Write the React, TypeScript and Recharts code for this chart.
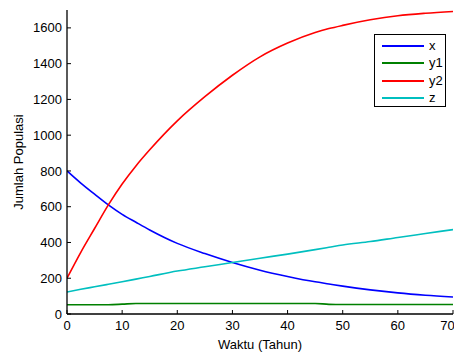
import { LineChart, Line, XAxis, YAxis, Legend } from "recharts";

const years = [0, 2.5, 5, 7.5, 10, 12.5, 15, 20, 25, 30, 35, 40, 45, 47.5, 50, 55, 60, 65, 70];
const xVals = [800, 732, 670, 610, 557, 513, 470, 395, 338, 288, 245, 210, 180, 168, 156, 135, 118, 105, 95];
const y1Vals = [52, 52, 52, 52, 55, 59, 59, 59, 59, 59, 59, 59, 59, 54, 53, 53, 53, 53, 53];
const y2Vals = [200, 345, 478, 610, 727, 828, 918, 1080, 1215, 1335, 1438, 1515, 1574, 1596, 1614, 1645, 1668, 1682, 1692];
const zVals = [123, 138, 152, 166, 180, 195, 210, 240, 264, 288, 312, 335, 360, 373, 386, 405, 428, 450, 472];

const xTicks = [0, 10, 20, 30, 40, 50, 60, 70];
const yTicks = [0, 200, 400, 600, 800, 1000, 1200, 1400, 1600];

const series = [
  { key: "x", color: "#0000ff" },
  { key: "y1", color: "#008000" },
  { key: "y2", color: "#ff0000" },
  { key: "z", color: "#00bfbf" },
];

const data = years.map((t, i) => ({
  t,
  x: xVals[i],
  y1: y1Vals[i],
  y2: y2Vals[i],
  z: zVals[i],
}));

const FONT = "'Liberation Sans', Arial, sans-serif";
const tickStyle = { fill: "#000", fontSize: 13, fontFamily: FONT };
const axisLine = { stroke: "#000", strokeWidth: 1.3 };

const LegendBox = () => (
  <div
    style={{
      width: 72,
      height: 73,
      border: "1px solid #000",
      background: "#fff",
      boxSizing: "border-box",
      fontFamily: FONT,
      fontSize: 13,
      position: "relative",
    }}
  >
    {series.map((s, i) => (
      <div
        key={s.key}
        style={{ position: "absolute", left: 7, top: 3 + i * 17.4, height: 16, display: "flex", alignItems: "center" }}
      >
        <div style={{ width: 42, height: 2, background: s.color }} />
        <span style={{ marginLeft: 5, color: "#000", lineHeight: "16px" }}>{s.key}</span>
      </div>
    ))}
  </div>
);

export default function App() {
  return (
    <div style={{ position: "fixed", left: 0, top: 0, width: 454, height: 352, background: "#fff" }}>
      <LineChart width={454} height={352} data={data} margin={{ top: 10, right: 1, left: 0, bottom: 0 }}>
        <XAxis
          dataKey="t"
          type="number"
          domain={[0, 70]}
          ticks={xTicks}
          allowDataOverflow
          height={38}
          tickSize={-4}
          tickMargin={11}
          tick={tickStyle}
          axisLine={axisLine}
          tickLine={{ stroke: "#000" }}
          label={{ value: "Waktu (Tahun)", position: "insideBottom", offset: 3, style: { ...tickStyle } }}
        />
        <XAxis
          xAxisId="top"
          orientation="top"
          dataKey="t"
          type="number"
          domain={[0, 70]}
          ticks={xTicks}
          height={0}
          tickSize={-4}
          tickFormatter={() => ""}
          axisLine={axisLine}
          tickLine={{ stroke: "#000" }}
        />
        <YAxis
          type="number"
          domain={[0, 1700]}
          ticks={yTicks}
          width={67}
          tickSize={-4}
          tickMargin={9}
          tick={tickStyle}
          axisLine={axisLine}
          tickLine={{ stroke: "#000" }}
          label={() => (
            <text
              x={18}
              y={162}
              transform="rotate(-90 18 162)"
              textAnchor="middle"
              dominantBaseline="central"
              style={tickStyle}
            >
              Jumlah Populasi
            </text>
          )}
        />
        <YAxis
          yAxisId="right"
          orientation="right"
          type="number"
          domain={[0, 1700]}
          ticks={yTicks}
          width={0}
          tickSize={-4}
          tickFormatter={() => ""}
          axisLine={axisLine}
          tickLine={{ stroke: "#000" }}
        />
        {series.map((s) => (
          <Line
            key={s.key}
            dataKey={s.key}
            type="monotone"
            stroke={s.color}
            strokeWidth={1.6}
            dot={false}
            isAnimationActive={false}
          />
        ))}
        <Legend
          layout="vertical"
          align="center"
          verticalAlign="middle"
          content={() => <LegendBox />}
          wrapperStyle={{ position: "absolute", left: 374, top: 34, width: 72, height: 73 }}
        />
      </LineChart>
    </div>
  );
}
